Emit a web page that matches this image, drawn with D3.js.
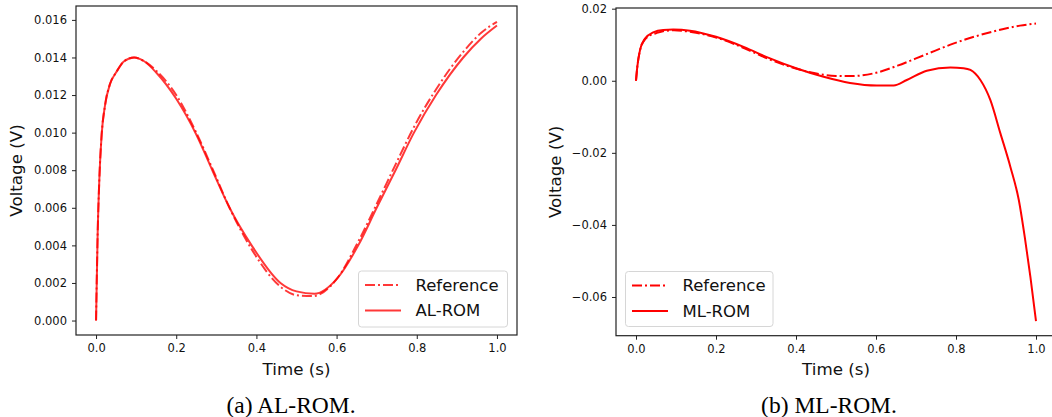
<!DOCTYPE html>
<html>
<head>
<meta charset="utf-8">
<script src="https://cdn.jsdelivr.net/npm/d3@7"></script>
<style>
  html, body { margin: 0; padding: 0; background: #fff; }
  svg { display: block; font-family: "DejaVu Sans", sans-serif; }
</style>
</head>
<body>
<svg id="chart" width="1052" height="417"></svg>
<script>
// ---------- data ----------
const refTime = [0, 0.004, 0.008, 0.014, 0.022, 0.035, 0.05, 0.07, 0.095, 0.12, 0.15, 0.2, 0.25, 0.29, 0.333, 0.388, 0.46, 0.5, 0.54, 0.6, 0.654, 0.70, 0.747, 0.793, 0.848, 0.916, 0.96, 1.0];
const refVolt = [0, 0.0046, 0.0074, 0.0099, 0.0114, 0.0126, 0.0132, 0.0138, 0.0140, 0.0138, 0.0133, 0.0120, 0.0100, 0.0081, 0.0060, 0.0038, 0.0018, 0.00135, 0.0013, 0.0022, 0.0042, 0.0062, 0.0083, 0.0103, 0.0123, 0.0143, 0.0153, 0.0159];

const alTime = [0, 0.004, 0.008, 0.014, 0.022, 0.035, 0.05, 0.07, 0.095, 0.12, 0.15, 0.2, 0.25, 0.29, 0.333, 0.388, 0.46, 0.5, 0.545, 0.6, 0.654, 0.70, 0.747, 0.793, 0.848, 0.916, 0.96, 1.0];
const alVolt = [0, 0.0046, 0.0074, 0.0099, 0.0114, 0.0126, 0.0132, 0.0138, 0.0140, 0.0138, 0.0132, 0.0118, 0.0099, 0.0080, 0.0060, 0.0040, 0.0020, 0.00155, 0.00142, 0.0022, 0.0040, 0.0060, 0.0080, 0.0100, 0.0120, 0.0140, 0.0150, 0.0157];

const mlTime = [0, 0.0033, 0.010, 0.0225, 0.043, 0.068, 0.093, 0.135, 0.2, 0.269, 0.335, 0.402, 0.469, 0.535, 0.602, 0.644, 0.677, 0.727, 0.786, 0.819, 0.836, 0.861, 0.886, 0.911, 0.936, 0.957, 0.973, 0.986, 1.0];
const mlVolt = [0, 0.0039, 0.0085, 0.0117, 0.0134, 0.0141, 0.0142, 0.0139, 0.0122, 0.0094, 0.0062, 0.0034, 0.0011, -0.0006, -0.0013, -0.0013, 0.0002, 0.0028, 0.0037, 0.0035, 0.0030, 0.0002, -0.0054, -0.0146, -0.0239, -0.0331, -0.0442, -0.0544, -0.0667];

const xTicks = [0, 0.2, 0.4, 0.6, 0.8, 1.0];
const yTicksA = [0, 0.002, 0.004, 0.006, 0.008, 0.010, 0.012, 0.014, 0.016];
const yTicksB = [-0.06, -0.04, -0.02, 0, 0.02];

const seriesNamesA = ["Reference", "AL-ROM"];
const seriesNamesB = ["Reference", "ML-ROM"];
const captions = ["(a) AL-ROM.", "(b) ML-ROM."];

// ---------- drawing ----------
const svg = d3.select("#chart");
const zip = (t, v) => t.map((d, i) => [d, v[i]]);

function panel(cfg) {
  const g = svg.append("g");
  const x = d3.scaleLinear().domain([-0.05, 1.05]).range([cfg.left, cfg.right]);
  const y = d3.scaleLinear().domain(cfg.yDomain).range([cfg.bottom, cfg.top]);

  const clipId = "clip" + cfg.id;
  svg.append("clipPath").attr("id", clipId).append("rect")
    .attr("x", cfg.left).attr("y", cfg.top)
    .attr("width", cfg.right - cfg.left).attr("height", cfg.bottom - cfg.top);

  const line = d3.line().x(d => x(d[0])).y(d => y(d[1])).curve(d3.curveMonotoneX);
  const lg = g.append("g").attr("clip-path", `url(#${clipId})`);

  cfg.series.forEach(s => {
    lg.append("path").datum(zip(s.t, s.v))
      .attr("d", line).attr("fill", "none")
      .attr("stroke", "red").attr("stroke-opacity", cfg.opacity)
      .attr("stroke-width", 2)
      .attr("stroke-dasharray", s.dash ? "10,3,2,3" : null)
      .attr("stroke-linejoin", "round");
  });

  // axes
  const xAxis = d3.axisBottom(x).tickValues(xTicks).tickFormat(d3.format(".1f"))
    .tickSizeInner(4).tickSizeOuter(0).tickPadding(5);
  const yAxis = d3.axisLeft(y).tickValues(cfg.yTicks).tickFormat(cfg.yFormat)
    .tickSizeInner(4).tickSizeOuter(0).tickPadding(5);

  const gx = g.append("g").attr("transform", `translate(0,${cfg.bottom})`).call(xAxis);
  const gy = g.append("g").attr("transform", `translate(${cfg.left},0)`).call(yAxis);
  [gx, gy].forEach(a => {
    a.select(".domain").remove();
    a.selectAll("line").attr("stroke", "#222").attr("stroke-width", 1);
    a.selectAll("text").attr("font-size", "11.5px").attr("fill", "#111")
      .attr("font-family", "DejaVu Sans, sans-serif");
  });

  // spines
  g.append("rect").attr("x", cfg.left).attr("y", cfg.top)
    .attr("width", cfg.right - cfg.left).attr("height", cfg.bottom - cfg.top)
    .attr("fill", "none").attr("stroke", "#222").attr("stroke-width", 1.2);

  // labels
  g.append("text").attr("x", (cfg.left + cfg.right) / 2).attr("y", 375)
    .attr("text-anchor", "middle").attr("font-size", "16.7px").attr("fill", "#111")
    .text("Time (s)");
  g.append("text").attr("transform", `translate(${cfg.ylabelX},${(cfg.top + cfg.bottom) / 2}) rotate(-90)`)
    .attr("text-anchor", "middle").attr("dy", "0.35em").attr("font-size", "16.7px").attr("fill", "#111")
    .text("Voltage (V)");
  g.append("text").attr("x", cfg.captionX).attr("y", 413)
    .attr("text-anchor", "middle").attr("font-family", "Liberation Serif, Times New Roman, serif")
    .attr("font-size", "23.5px").attr("fill", "#000")
    .text(cfg.caption);

  // legend
  const L = cfg.legend;
  const lgnd = g.append("g");
  lgnd.append("rect").attr("x", L.x).attr("y", L.y).attr("width", L.w).attr("height", L.h)
    .attr("rx", 3).attr("fill", "#fff").attr("fill-opacity", 0.85)
    .attr("stroke", "#d6d6d6").attr("stroke-width", 1);
  cfg.series.forEach((s, i) => {
    const yy = L.y + 14 + i * 25.5;
    lgnd.append("line").attr("x1", L.x + 6.5).attr("x2", L.x + 42.5)
      .attr("y1", yy).attr("y2", yy)
      .attr("stroke", "red").attr("stroke-opacity", cfg.opacity).attr("stroke-width", 2)
      .attr("stroke-dasharray", s.dash ? "10,3,2,3" : null);
    lgnd.append("text").attr("x", L.x + 57).attr("y", yy).attr("dy", "0.36em")
      .attr("font-size", "16.5px").attr("fill", "#111").text(s.name);
  });
}

panel({
  id: "a", left: 76, right: 517, top: 6, bottom: 335,
  yDomain: [-0.00077, 0.01674], yTicks: yTicksA, yFormat: d3.format(".3f"),
  ylabelX: 16, captionX: 291, caption: captions[0], opacity: 0.78,
  series: [
    { name: seriesNamesA[0], t: refTime, v: refVolt, dash: true },
    { name: seriesNamesA[1], t: alTime, v: alVolt, dash: false }
  ],
  legend: { x: 358.5, y: 271, w: 149, h: 56 }
});

const minus = s => s.replace("-", "\u2212");
panel({
  id: "b", left: 616, right: 1056, top: 8, bottom: 335.7,
  yDomain: [-0.07074, 0.02019], yTicks: yTicksB, yFormat: d => minus(d3.format(".2f")(d)),
  ylabelX: 555, captionX: 829, caption: captions[1], opacity: 1,
  series: [
    { name: seriesNamesB[0], t: refTime, v: refVolt, dash: true },
    { name: seriesNamesB[1], t: mlTime, v: mlVolt, dash: false }
  ],
  legend: { x: 625.5, y: 271.5, w: 147.5, h: 55 }
});
</script>
</body>
</html>
